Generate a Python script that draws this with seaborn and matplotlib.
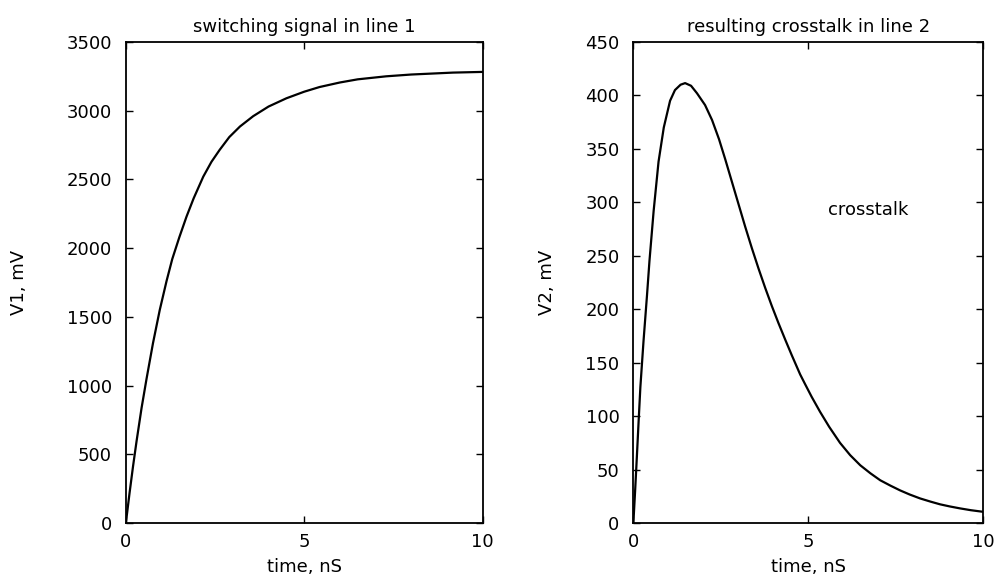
import matplotlib
matplotlib.use("Agg")
import matplotlib.pyplot as plt
import seaborn as sns
import pandas as pd

# ---- data ----
t1 = [0, 0.1, 0.2, 0.3, 0.44, 0.58, 0.76, 0.95, 1.14, 1.3, 1.5, 1.7, 1.9,
      2.17, 2.4, 2.63, 2.9, 3.2, 3.57, 4.0, 4.5, 5.0, 5.43, 6.0, 6.5, 7.3,
      8.0, 9.17, 10]
v1 = [0, 212, 411, 596, 837, 1050, 1308, 1550, 1760, 1920, 2080, 2229, 2362,
      2520, 2628, 2715, 2808, 2885, 2960, 3030, 3090, 3138, 3172, 3205, 3228,
      3250, 3263, 3277, 3282]

t2 = [0, 0.05, 0.1, 0.15, 0.2, 0.29, 0.39, 0.46, 0.58, 0.72, 0.87, 1.05, 1.19,
      1.35, 1.48, 1.65, 1.82, 2.05, 2.25, 2.45, 2.63, 2.82, 3.01, 3.2, 3.39,
      3.58, 3.77, 3.96, 4.15, 4.35, 4.53, 4.77, 4.91, 5.1, 5.34, 5.6, 5.91,
      6.2, 6.49, 6.78, 7.06, 7.35, 7.63, 7.9, 8.2, 8.5, 8.77, 9.05, 9.34,
      9.65, 10]
v2 = [0, 30, 62, 95, 127, 170, 213, 245, 292, 338, 370, 395, 405,
      410, 411.5, 409, 402, 391, 377, 359, 340, 319, 298, 277, 257,
      238, 220, 203, 187, 171, 157, 139, 130, 118, 104, 90, 75,
      63.5, 54, 46.5, 40, 35, 30.5, 26.7, 23, 20, 17.5, 15.5, 13.7,
      12, 10.5]

x_ticks = [0, 5, 10]
y1_ticks = [0, 500, 1000, 1500, 2000, 2500, 3000, 3500]
y2_ticks = [0, 50, 100, 150, 200, 250, 300, 350, 400, 450]

titles = ["switching signal in line 1", "resulting crosstalk in line 2"]
ylabels = ["V1, mV", "V2, mV"]
xlabel = "time, nS"
annotation = "crosstalk"

df1 = pd.DataFrame({"t": t1, "v": v1})
df2 = pd.DataFrame({"t": t2, "v": v2})

sns.set_theme(style="white")
plt.rcParams["font.family"] = ["DejaVu Sans"]
plt.rcParams["font.size"] = 13

fig = plt.figure(figsize=(9.99, 5.81), dpi=100)
ax1 = fig.add_axes([0.126, 0.0998, 0.357, 0.828])
ax2 = fig.add_axes([0.634, 0.0998, 0.350, 0.828])

sns.lineplot(data=df1, x="t", y="v", ax=ax1, color="black", linewidth=1.6,
             estimator=None, sort=False)
sns.lineplot(data=df2, x="t", y="v", ax=ax2, color="black", linewidth=1.6,
             estimator=None, sort=False)

for ax, yt, ttl, yl, lx in [(ax1, y1_ticks, titles[0], ylabels[0], -0.275),
                            (ax2, y2_ticks, titles[1], ylabels[1], -0.22)]:
    ax.set_xlim(0, 10)
    ax.set_ylim(yt[0], yt[-1])
    ax.set_xticks(x_ticks)
    ax.set_yticks(yt)
    ax.set_xticklabels([str(v) for v in x_ticks], fontsize=13)
    ax.set_yticklabels([str(v) for v in yt], fontsize=13)
    ax.tick_params(direction="in", length=5, width=1.0, color="black",
                   top=True, right=True, bottom=True, left=True,
                   labelcolor="black")
    ax.tick_params(axis="y", pad=10)
    ax.tick_params(axis="x", pad=7)
    for s in ax.spines.values():
        s.set_visible(True)
        s.set_color("black")
        s.set_linewidth(1.3)
    ax.set_title(ttl, fontsize=13, color="black", pad=7)
    ax.set_xlabel(xlabel, fontsize=13, color="black", labelpad=5)
    ax.set_ylabel(yl, fontsize=13, color="black")
    ax.yaxis.set_label_coords(lx, 0.5)
    ax.set_facecolor("white")

ax2.text(6.71, 293, annotation, fontsize=13, color="black",
         ha="center", va="center")

fig.savefig("out.png", dpi=100, facecolor="white")
